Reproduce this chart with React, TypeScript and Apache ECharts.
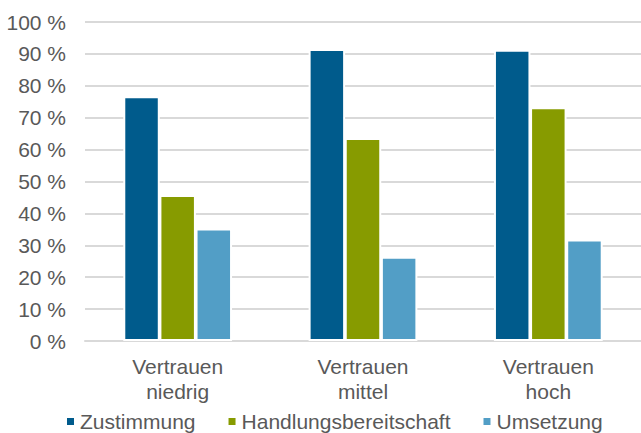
import React, { useEffect, useRef } from "react";
import * as echarts from "echarts";

const categories = ["Vertrauen\nniedrig", "Vertrauen\nmittel", "Vertrauen\nhoch"];
const seriesNames = ["Zustimmung", "Handlungsbereitschaft", "Umsetzung"];
const zustimmung = [76.7, 91.5, 91.3];
const handlungsbereitschaft = [45.8, 63.6, 73.3];
const umsetzung = [35.3, 26.4, 31.8];
const colors = ["#005b8c", "#879b00", "#529ec6"];
const yMin = 0;
const yMax = 100;
const yInterval = 10;

export default function App() {
  const ref = useRef<HTMLDivElement>(null);
  useEffect(() => {
    if (!ref.current) return;
    const chart = echarts.init(ref.current, null, { renderer: "svg" });
    const font = "'Liberation Sans', Arial, sans-serif";
    const values = [zustimmung, handlungsbereitschaft, umsetzung];
    chart.setOption({
      animation: false,
      backgroundColor: "#ffffff",
      textStyle: { fontFamily: font },
      grid: { left: 85, top: 22, height: 319, width: 561 },
      legend: {
        data: seriesNames,
        left: 65,
        top: 411,
        padding: 0,
        icon: "rect",
        itemWidth: 9,
        itemHeight: 9,
        itemGap: 31,
        textStyle: { fontSize: 21, color: "#595959", fontFamily: font, padding: [0, 0, 0, 0] },
      },
      xAxis: {
        type: "category",
        data: categories,
        axisLine: { show: true, lineStyle: { color: "#d9d9d9", width: 2 } },
        axisTick: { show: false },
        axisLabel: {
          fontSize: 21,
          lineHeight: 25,
          color: "#595959",
          margin: 13,
          fontFamily: font,
        },
      },
      yAxis: {
        type: "value",
        min: yMin,
        max: yMax,
        interval: yInterval,
        axisLine: { show: false },
        axisTick: { show: false },
        splitLine: { show: true, lineStyle: { color: "#d9d9d9", width: 2 } },
        axisLabel: {
          formatter: "{value} %",
          fontSize: 21,
          color: "#595959",
          margin: 19,
          fontFamily: font,
        },
      },
      series: seriesNames.map((name, i) => ({
        name,
        type: "bar",
        data: values[i],
        barWidth: 36.5,
        barGap: "-1%",
        itemStyle: { color: colors[i], borderColor: "#ffffff", borderWidth: 2 },
      })),
    });
    return () => chart.dispose();
  }, []);
  return (
    <div
      ref={ref}
      style={{ position: "absolute", left: 0, top: 0, width: 641, height: 433 }}
    />
  );
}
